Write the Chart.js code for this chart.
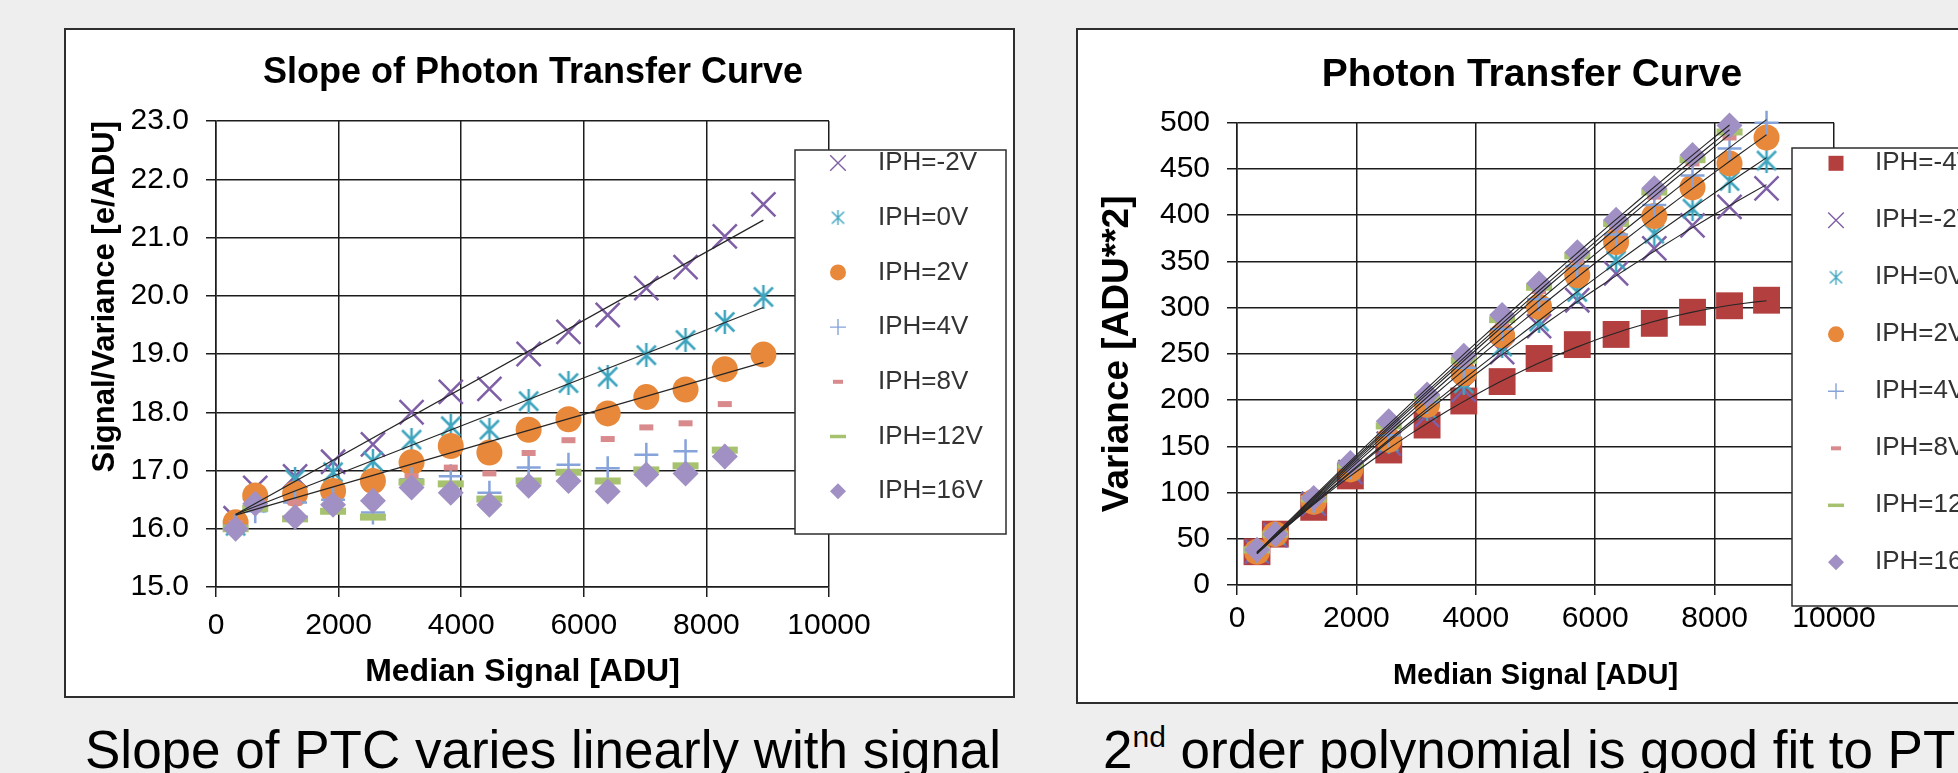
<!DOCTYPE html>
<html>
<head>
<meta charset="utf-8">
<script src="https://cdn.jsdelivr.net/npm/chart.js@4.4.1/dist/chart.umd.min.js"></script>
<style>
  html, body { margin: 0; padding: 0; }
  body {
    width: 1958px; height: 773px; overflow: hidden; position: relative;
    background: #eeeeee; font-family: "Liberation Sans", Arial, sans-serif;
  }
  .panel {
    position: absolute; box-sizing: border-box; background: #fff;
    border: 2px solid #2e2e2e; overflow: hidden;
  }
  .panel canvas { position: absolute; left: 0; top: 0; }
  #leftPanel { left: 64px; top: 28px; width: 951px; height: 670px; }
  #rightPanel { left: 1076px; top: 28px; width: 960px; height: 676px; }
  .caption {
    position: absolute; top: 723px; font-size: 53px; line-height: 53px;
    color: #000; white-space: nowrap;
  }
  .caption .sup { font-size: 30px; position: relative; top: -21px; }
</style>
</head>
<body>
<div id="leftPanel" class="panel"><canvas id="slopeChart" width="947" height="666"></canvas></div>
<div id="rightPanel" class="panel"><canvas id="ptcChart" width="956" height="672"></canvas></div>
<div class="caption" style="left:85px">Slope of PTC varies linearly with signal</div>
<div class="caption" style="left:1103px">2<span class="sup">nd</span> order polynomial is good fit to PTC</div>

<script>
// ---- data ----
const slopeX = [320, 640, 1290, 1910, 2560, 3190, 3830, 4460, 5100, 5750, 6390, 7020, 7660, 8300, 8930];
const slopeM2 = [16.18, 16.7, 16.9, 17.15, 17.45, 18.0, 18.35, 18.4, 19.0, 19.38, 19.67, 20.13, 20.49, 21.02, 21.57];
const slope0 = [16.05, 16.45, 16.85, 16.97, 17.16, 17.53, 17.76, 17.7, 18.19, 18.5, 18.61, 18.98, 19.24, 19.55, 19.98];
const slope2 = [16.11, 16.57, 16.6, 16.65, 16.82, 17.14, 17.42, 17.31, 17.7, 17.88, 17.98, 18.26, 18.39, 18.74, 18.99];
const slope4 = [16.05, 16.3, 16.45, 16.5, 16.28, 16.85, 16.9, 16.62, 17.05, 17.1, 17.04, 17.27, 17.33, 17.24];
const slope8 = [16.1, 16.4, 16.45, 16.5, 16.54, 16.9, 17.05, 16.95, 17.3, 17.52, 17.54, 17.74, 17.81, 18.14];
const slope12 = [16.0, 16.35, 16.17, 16.3, 16.2, 16.8, 16.77, 16.51, 16.82, 16.97, 16.82, 17.01, 17.08, 17.35];
const slope16 = [16.0, 16.43, 16.2, 16.41, 16.48, 16.71, 16.62, 16.41, 16.74, 16.82, 16.64, 16.93, 16.95, 17.24];

const ptcX = [335, 642, 1285, 1899, 2542, 3184, 3799, 4441, 5060, 5700, 6350, 6990, 7630, 8250, 8870];
const ptcM4 = [36, 55, 84, 118, 146, 173, 199, 220, 245, 260, 271, 283, 295, 302, 308];
const ptcM2 = [36, 54, 88, 122, 153, 184, 211, 252, 280, 308, 337, 364, 389, 409, 429];
const ptc0 = [36, 54, 89, 124, 155, 190, 218, 258, 285, 317, 351, 380, 407, 437, 459];
const ptc2 = [36, 55, 90, 125, 157, 195, 229, 270, 301, 335, 371, 399, 430, 456, 484];
const ptc4 = [37, 55, 91, 127, 162, 198, 235, 277, 309, 345, 379, 411, 443, 472, 500];
const ptc8 = [37, 55, 92, 129, 168, 201, 240, 283, 318, 352, 387, 420, 456, 484];
const ptc12 = [38, 55, 93, 130, 172, 203, 243, 287, 322, 356, 391, 425, 460, 490];
const ptc16 = [38, 55, 94, 132, 177, 206, 248, 292, 326, 360, 395, 429, 465, 497];

const xTicks = [0, 2000, 4000, 6000, 8000, 10000];

Chart.defaults.font.family = '"Liberation Sans", Arial, sans-serif';
Chart.defaults.color = '#000';

// excel-like asterisk: an X plus a vertical bar
function asterisk(size, color, lw) {
  const c = document.createElement('canvas');
  c.width = size; c.height = size;
  const g = c.getContext('2d');
  g.strokeStyle = color; g.lineWidth = lw;
  const m = lw, h = size / 2;
  g.beginPath();
  g.moveTo(m, m); g.lineTo(size - m, size - m);
  g.moveTo(size - m, m); g.lineTo(m, size - m);
  g.moveTo(h, 0); g.lineTo(h, size);
  g.stroke();
  return c;
}

const styles = {
  '-4V': { color: '#b3403f', plot: ['rect', 19, 0], legend: ['rect', 10.6, 0] },
  '-2V': { color: '#7f5fa6', plot: ['crossRot', 17, 2.5], legend: ['crossRot', 11, 1.4] },
  '0V':  { color: '#3fa5bf', plot: [asterisk(24, '#3fa5bf', 2.5), 12, 0], legend: [asterisk(15, '#3fa5bf', 1.4), 7, 0] },
  '2V':  { color: '#e8883a', plot: ['circle', 13, 0], legend: ['circle', 8, 0] },
  '4V':  { color: '#86a3da', plot: ['cross', 12, 2.5], legend: ['cross', 8, 1.4] },
  '8V':  { color: '#d98a8d', plot: ['line', 7, 6], legend: ['line', 5, 4] },
  '12V': { color: '#a6c26e', plot: ['line', 13, 7], legend: ['line', 8, 3.5] },
  '16V': { color: '#a090c4', plot: ['rectRot', 13, 0], legend: ['rectRot', 8, 0] }
};

function markerSet(key, xs, ys, order) {
  const st = styles[key];
  return {
    label: 'IPH=' + key,
    data: ys.map((y, i) => ({ x: xs[i], y })),
    showLine: false,
    clip: false,
    order,
    pointStyle: st.plot[0],
    pointRadius: st.plot[1],
    pointHoverRadius: st.plot[1],
    pointBorderWidth: st.plot[2],
    pointBackgroundColor: st.color,
    pointBorderColor: st.color,
    legendMarker: { style: st.legend[0], radius: st.legend[1], width: st.legend[2], color: st.color }
  };
}

// least squares polynomial fit, returned as a function of x
function polyFit(xs, ys, deg) {
  const n = deg + 1;
  const m = Array.from({ length: n }, () => new Array(n + 1).fill(0));
  ys.forEach((y, k) => {
    const u = xs[k] / 1000;
    for (let i = 0; i < n; i++) {
      for (let j = 0; j < n; j++) m[i][j] += Math.pow(u, i + j);
      m[i][n] += y * Math.pow(u, i);
    }
  });
  for (let c = 0; c < n; c++) {
    for (let r = c + 1; r < n; r++) {
      const f = m[r][c] / m[c][c];
      for (let k = c; k <= n; k++) m[r][k] -= f * m[c][k];
    }
  }
  const coef = new Array(n).fill(0);
  for (let r = n - 1; r >= 0; r--) {
    let s = m[r][n];
    for (let k = r + 1; k < n; k++) s -= m[r][k] * coef[k];
    coef[r] = s / m[r][r];
  }
  return x => coef.reduce((acc, c, i) => acc + c * Math.pow(x / 1000, i), 0);
}

function fitSet(xs, ys, deg, steps, width) {
  const f = polyFit(xs, ys, deg);
  const x0 = xs[0], x1 = xs[ys.length - 1];
  const pts = [];
  for (let i = 0; i <= steps; i++) {
    const x = x0 + (x1 - x0) * i / steps;
    pts.push({ x, y: f(x) });
  }
  return {
    label: '', data: pts, showLine: true, pointRadius: 0, pointHoverRadius: 0,
    borderColor: '#262626', borderWidth: width, order: 0, clip: false
  };
}

function drawMarker(ctx, m, x, y) {
  ctx.save();
  ctx.fillStyle = m.color; ctx.strokeStyle = m.color; ctx.lineWidth = m.width;
  const r = m.radius;
  if (typeof m.style !== 'string') {
    ctx.drawImage(m.style, x - m.style.width / 2, y - m.style.height / 2);
    ctx.restore();
    return;
  }
  ctx.beginPath();
  if (m.style === 'rect') {
    const s = r * Math.SQRT1_2;
    ctx.rect(x - s, y - s, 2 * s, 2 * s); ctx.fill();
  } else if (m.style === 'rectRot') {
    ctx.moveTo(x - r, y); ctx.lineTo(x, y - r); ctx.lineTo(x + r, y); ctx.lineTo(x, y + r);
    ctx.closePath(); ctx.fill();
  } else if (m.style === 'circle') {
    ctx.arc(x, y, r, 0, Math.PI * 2); ctx.fill();
  } else if (m.style === 'crossRot') {
    const d = r * Math.SQRT1_2;
    ctx.moveTo(x - d, y - d); ctx.lineTo(x + d, y + d);
    ctx.moveTo(x + d, y - d); ctx.lineTo(x - d, y + d); ctx.stroke();
  } else if (m.style === 'cross') {
    ctx.moveTo(x - r, y); ctx.lineTo(x + r, y);
    ctx.moveTo(x, y - r); ctx.lineTo(x, y + r); ctx.stroke();
  } else if (m.style === 'line') {
    ctx.moveTo(x - r, y); ctx.lineTo(x + r, y); ctx.stroke();
  }
  ctx.restore();
}

// boxed legend that sits over the plot, like the excel one
const boxLegend = {
  id: 'boxLegend',
  afterDraw(chart, args, opts) {
    const ctx = chart.ctx;
    ctx.save();
    ctx.fillStyle = '#fff';
    ctx.fillRect(opts.left, opts.top, opts.width, opts.height);
    ctx.strokeStyle = '#2e2e2e'; ctx.lineWidth = 1.5;
    ctx.strokeRect(opts.left, opts.top, opts.width, opts.height);
    ctx.font = '26px "Liberation Sans", Arial, sans-serif';
    ctx.textBaseline = 'middle'; ctx.textAlign = 'left';
    chart.data.datasets.filter(d => d.legendMarker).forEach((d, i) => {
      const y = opts.firstRow + i * opts.rowGap;
      drawMarker(ctx, d.legendMarker, opts.markerX, y);
      ctx.fillStyle = '#333';
      ctx.fillText(d.label, opts.textX, y);
    });
    ctx.restore();
  }
};

function gridStyle() {
  return { color: '#1c1c1c', lineWidth: 1.5, tickLength: 10, drawTicks: true };
}

function xAxis(title, titleSize, titlePad, tickPad, height) {
  return {
    type: 'linear', position: 'bottom', min: 0, max: 10000,
    grid: gridStyle(),
    border: { display: true, color: '#1c1c1c', width: 1.5 },
    afterBuildTicks: s => { s.ticks = xTicks.map(v => ({ value: v })); },
    ticks: { font: { size: 30 }, color: '#000', padding: tickPad, maxRotation: 0, autoSkip: false, callback: v => String(v) },
    title: { display: true, text: title, font: { size: titleSize, weight: 'bold' }, color: '#000', padding: { top: 0, bottom: titlePad } },
    afterFit: s => { s.height = height; }
  };
}

function padAxis(width) {
  return {
    type: 'linear', position: 'right', min: 0, max: 1, display: true,
    grid: { display: false, drawTicks: false }, border: { display: false },
    ticks: { display: false },
    afterFit: s => { s.width = width; }
  };
}

// ---- left: slope of PTC ----
const slopeSeries = [['-2V', slopeM2], ['0V', slope0], ['2V', slope2], ['4V', slope4],
  ['8V', slope8], ['12V', slope12], ['16V', slope16]];

const slopeDatasets = slopeSeries.map(([k, ys], i) => markerSet(k, slopeX, ys, 100 - i));
[slopeM2, slope0, slope2].forEach(ys => slopeDatasets.push(fitSet(slopeX, ys, 1, 1, 1.3)));

new Chart(document.getElementById('slopeChart'), {
  type: 'scatter',
  data: { datasets: slopeDatasets },
  plugins: [boxLegend],
  options: {
    responsive: false, animation: false, devicePixelRatio: 1,
    layout: { padding: { left: 0, right: 13, top: 0, bottom: 0 } },
    plugins: {
      legend: { display: false },
      tooltip: { enabled: false },
      title: {
        display: true, text: 'Slope of Photon Transfer Curve', color: '#000',
        font: { size: 36, weight: 'bold', lineHeight: 1.2 }, padding: { top: 21, bottom: 26.8 }
      },
      boxLegend: { left: 729, top: 120, width: 211, height: 384, firstRow: 133, rowGap: 54.7, markerX: 772, textX: 812 }
    },
    scales: {
      x: xAxis('Median Signal [ADU]', 32, 5, 11, 109),
      y: {
        type: 'linear', position: 'left', min: 15, max: 23,
        grid: gridStyle(),
        border: { display: true, color: '#1c1c1c', width: 1.5 },
        ticks: { stepSize: 1, font: { size: 30 }, color: '#000', padding: 17, callback: v => v.toFixed(1) },
        title: { display: true, text: 'Signal/Variance [e/ADU]', align: 'end', font: { size: 31, weight: 'bold' }, color: '#000', padding: { top: 21, bottom: 0 } },
        afterFit: s => { s.width = 150; }
      },
      pad: padAxis(171)
    }
  }
});

// ---- right: photon transfer curve ----
const ptcSeries = [['-4V', ptcM4], ['-2V', ptcM2], ['0V', ptc0], ['2V', ptc2], ['4V', ptc4],
  ['8V', ptc8], ['12V', ptc12], ['16V', ptc16]];

const ptcDatasets = ptcSeries.map(([k, ys], i) => markerSet(k, ptcX, ys, 100 - i));
ptcSeries.forEach(([k, ys]) => ptcDatasets.push(fitSet(ptcX, ys, 2, 40, 1.1)));

new Chart(document.getElementById('ptcChart'), {
  type: 'scatter',
  data: { datasets: ptcDatasets },
  plugins: [boxLegend],
  options: {
    responsive: false, animation: false, devicePixelRatio: 1,
    layout: { padding: { left: 0, right: 48, top: 0, bottom: 0 } },
    plugins: {
      legend: { display: false },
      tooltip: { enabled: false },
      title: {
        display: true, text: 'Photon Transfer Curve', color: '#000',
        font: { size: 39, weight: 'bold', lineHeight: 1.2 }, padding: { top: 22, bottom: 23.9 }
      },
      boxLegend: { left: 714, top: 118, width: 260, height: 458, firstRow: 133.3, rowGap: 57, markerX: 758, textX: 797 }
    },
    scales: {
      x: xAxis('Median Signal [ADU]', 29, 9, 6, 117),
      y: {
        type: 'linear', position: 'left', min: 0, max: 500,
        grid: gridStyle(),
        border: { display: true, color: '#1c1c1c', width: 1.5 },
        ticks: { stepSize: 50, font: { size: 30 }, color: '#000', padding: 17 },
        title: { display: true, text: 'Variance [ADU**2]', font: { size: 37, weight: 'bold' }, color: '#000', padding: { top: 18, bottom: 0 } },
        afterFit: s => { s.width = 159; }
      },
      pad: padAxis(152)
    }
  }
});
</script>
</body>
</html>
